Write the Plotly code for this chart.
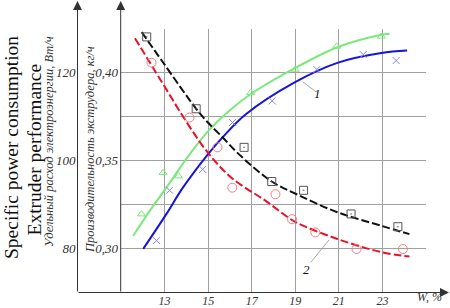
import plotly.graph_objects as go

# ---- data ----
# decreasing curves: specific power consumption, W*h (left axis)
black_x = [11.95, 12.94, 14.45, 15.0, 15.66, 16.42, 17.92, 19.15, 20.93, 22.95, 24.24]
black_y = [129.3, 122.3, 111.8, 108.6, 105.3, 101.4, 95.2, 92.1, 88.2, 85.1, 83.2]
black_mx = [12.18, 14.45, 16.65, 17.92, 19.38, 21.56, 23.71]
black_my = [128.2, 111.8, 103.0, 95.2, 93.2, 87.8, 84.9]

red_x = [11.64, 12.85, 14.07, 15.05, 16.11, 17.64, 18.70, 19.15, 20.93, 22.95, 24.24]
red_y = [127.9, 118.1, 108.3, 101.4, 95.9, 90.8, 86.9, 85.6, 82.1, 79.1, 78.1]
red_mx = [12.40, 14.14, 15.43, 16.11, 18.09, 18.85, 19.92, 21.81, 23.94]
red_my = [122.3, 109.8, 103.0, 93.8, 92.3, 86.6, 83.6, 79.8, 79.8]

# increasing curves: extruder performance, kg/h (right axis)
green_x = [11.56, 12.32, 13.08, 14.14, 15.05, 16.12, 17.03, 19.15, 20.93, 22.95, 23.33]
green_y = [0.3071, 0.3213, 0.3345, 0.3534, 0.3675, 0.3800, 0.3885, 0.4038, 0.4146, 0.4217, 0.4223]
green_mx = [11.94, 12.93, 13.64, 16.95, 19.0, 20.9, 22.95]
green_my = [0.3194, 0.3430, 0.3411, 0.3887, 0.4019, 0.4151, 0.4208]

blue_x = [12.02, 13.08, 13.84, 14.98, 15.66, 16.73, 18.93, 20.93, 22.95, 24.13]
blue_y = [0.2996, 0.3194, 0.3345, 0.3534, 0.3632, 0.3764, 0.3943, 0.4057, 0.4113, 0.4127]
blue_mx = [12.63, 13.23, 14.75, 16.12, 17.94, 19.99, 22.12, 23.63]
blue_my = [0.3043, 0.3330, 0.3449, 0.3717, 0.3840, 0.4019, 0.4104, 0.4070]

x_tick_vals = [11, 13, 15, 17, 19, 21, 23, 25]
x_tick_text = ["", "13", "15", "17", "19", "21", "23", ""]
perf_tick_vals = [0.275, 0.30, 0.325, 0.35, 0.375, 0.40, 0.425]
perf_tick_text = ["", "0,30", "", "0,35", "", "0,40", ""]
power_tick_vals = [80, 100, 120]
power_tick_text = ["80", "100", "120"]

FONT = "Liberation Serif"
W, H = 450, 308
ML, MR, MT, MB = 0, 24, 29, 16
PW = W - ML - MR
PH = H - MT - MB
def px(xp):  # pixel x -> paper
    return (xp - ML) / PW
def py(yp):  # pixel y -> paper
    return (H - MB - yp) / PH

fig = go.Figure()

fig.add_trace(go.Scatter(x=black_x, y=black_y, yaxis="y2", mode="lines",
                         line=dict(color="#111111", width=2, dash="8px,3px", shape="spline")))
fig.add_trace(go.Scatter(x=red_x, y=red_y, yaxis="y2", mode="lines",
                         line=dict(color="#e8102a", width=2, dash="8px,3px", shape="spline")))
fig.add_trace(go.Scatter(x=green_x, y=green_y, mode="lines",
                         line=dict(color="#7be87b", width=2, shape="spline")))
fig.add_trace(go.Scatter(x=blue_x, y=blue_y, mode="lines",
                         line=dict(color="#1515d8", width=2, shape="spline")))

fig.add_trace(go.Scatter(x=black_mx, y=black_my, yaxis="y2", mode="markers",
                         marker=dict(symbol="square-open-dot", size=8, color="#555555", line=dict(width=1))))
fig.add_trace(go.Scatter(x=red_mx, y=red_my, yaxis="y2", mode="markers",
                         marker=dict(symbol="circle-open", size=9, color="#f08080", line=dict(width=1))))
fig.add_trace(go.Scatter(x=green_mx, y=green_my, mode="markers",
                         marker=dict(symbol="triangle-up-open", size=7, color="#7be87b", line=dict(width=1))))
fig.add_trace(go.Scatter(x=blue_mx, y=blue_my, mode="markers",
                         marker=dict(symbol="x-thin-open", size=7, color="#8888ee", line=dict(width=1))))

tickfont = dict(family=FONT, size=13, color="#333333", style="italic")

fig.update_layout(
    template="none",
    width=W, height=H,
    margin=dict(l=ML, r=MR, t=MT, b=MB, pad=0),
    paper_bgcolor="white", plot_bgcolor="white",
    showlegend=False,
    xaxis=dict(domain=[px(121), 1], range=[11, 25], tickvals=x_tick_vals, ticktext=x_tick_text,
               showgrid=True, gridcolor="#a0a0a0", gridwidth=1, zeroline=False, showline=False,
               automargin=False, ticks="", ticklabelstandoff=0,
               tickfont=dict(family=FONT, size=12, color="#333333", style="italic")),
    yaxis=dict(range=[0.275, 0.425], tickvals=perf_tick_vals, ticktext=perf_tick_text,
               showgrid=True, gridcolor="#a0a0a0", gridwidth=1, zeroline=False, showline=False,
               automargin=False, ticks="", ticklabelstandoff=2, tickfont=tickfont),
    yaxis2=dict(range=[70, 130], overlaying="y", anchor="free", position=px(77.5), side="left",
                tickvals=power_tick_vals, ticktext=power_tick_text, showgrid=False, zeroline=False,
                automargin=False, showline=False, ticks="", ticklabelstandoff=2, tickfont=tickfont),
)

# axis lines with arrows
axis_col = "#333333"
for xp in (77.5, 120.7):
    fig.add_annotation(xref="paper", yref="paper", x=px(xp), y=py(1), ax=0, ay=292,
                       axref="pixel", ayref="pixel", text="", showarrow=True,
                       arrowhead=2, arrowsize=1.8, arrowwidth=1, arrowcolor=axis_col)
fig.add_annotation(xref="paper", yref="paper", x=px(449), y=py(292.5), ax=-372, ay=0,
                   text="", showarrow=True, arrowhead=2, arrowsize=1.8, arrowwidth=1,
                   arrowcolor=axis_col)

# titles
def label(xp, yp, text, size, italic, color):
    f = dict(family=FONT, size=size, color=color)
    if italic:
        f["style"] = "italic"
    fig.add_annotation(xref="paper", yref="paper", x=px(xp), y=py(yp), text=text,
                       textangle=-90, showarrow=False, xanchor="center", yanchor="middle", font=f)

label(11, 148, "Specific power consumption", 19.5, False, "#111111")
label(33.5, 150, "Extruder performance", 19.5, False, "#111111")
label(49, 142, "Удельный расход электроэнергии, Вт/ч", 12.5, True, "#333333")
label(90, 150, "Производительность экструдера, кг/ч", 12.5, True, "#333333")
fig.add_annotation(xref="paper", yref="paper", x=px(430), y=py(297), text="W, %", showarrow=False,
                   xanchor="center", yanchor="middle",
                   font=dict(family=FONT, size=12, color="#333333", style="italic"))

# curve labels with leaders
fig.add_shape(type="line", x0=19.34, y0=0.3949, x1=19.95, y1=0.3892, line=dict(color="#aaaaaa", width=1))
fig.add_annotation(x=20.02, y=0.3885, text="1", showarrow=False,
                   font=dict(family=FONT, size=13, color="#111111", style="italic"))
fig.add_shape(type="line", x0=19.71, y0=0.2919, x1=20.55, y1=0.3047, line=dict(color="#aaaaaa", width=1))
fig.add_annotation(x=19.52, y=0.2881, text="2", showarrow=False,
                   font=dict(family=FONT, size=13, color="#111111", style="italic"))

fig.write_html("out.html", config={"responsive": False, "displayModeBar": False},
               post_script="document.body.style.margin='0';document.body.style.overflow='hidden';")
